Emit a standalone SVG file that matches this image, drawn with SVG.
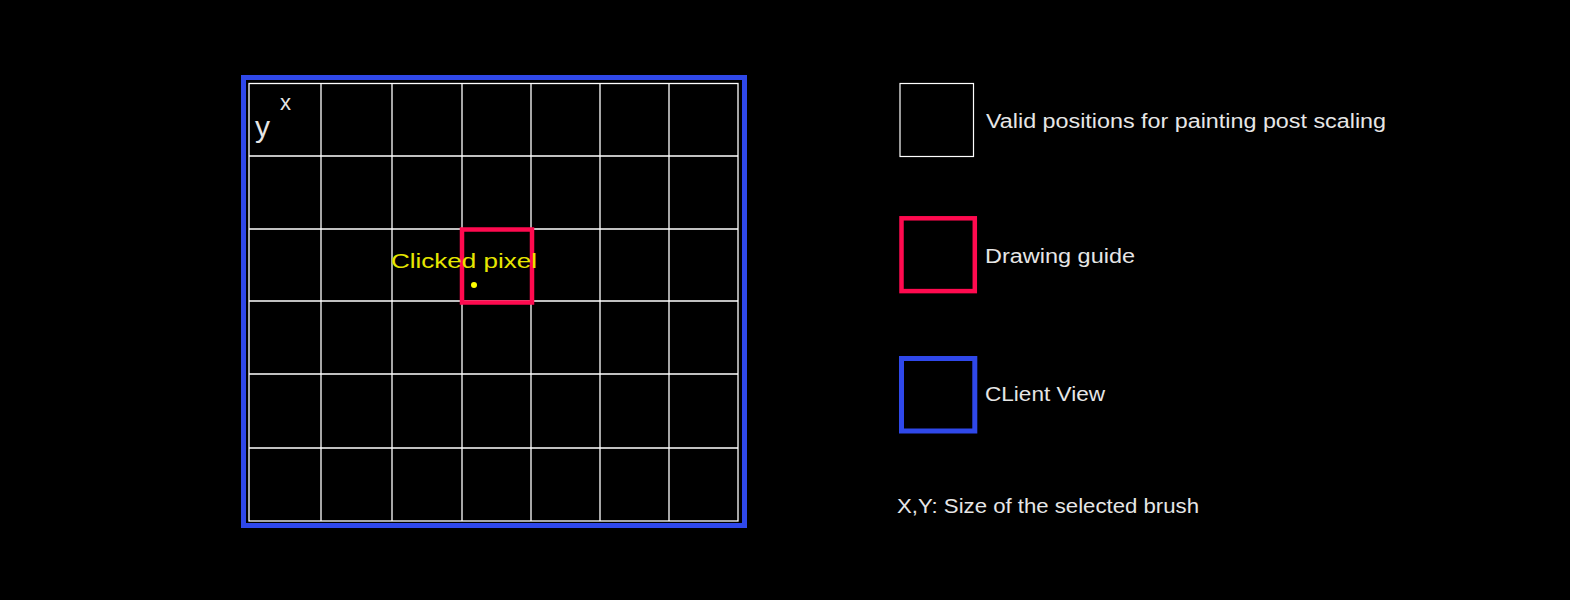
<svg xmlns="http://www.w3.org/2000/svg" width="1570" height="600" viewBox="0 0 1570 600">
<style>
.t{font-family:"Liberation Sans","DejaVu Sans",sans-serif;fill:#e6e6e6;font-size:20px}
.grid{stroke:#ffffff;stroke-width:1.3;fill:none}
.red{stroke:#ff0a4f;stroke-width:4.5;fill:none}
.blue{stroke:#2f48ea;stroke-width:5;fill:none}
</style>
<rect x="0" y="0" width="1570" height="600" fill="#000"/>
<g id="client-view">
<rect class="blue" x="243.5" y="77.5" width="501" height="448"/>
</g>
<g id="grid">
<rect class="grid" x="249" y="83.5" width="489" height="437.5"/>
<path class="grid" d="M321 83.5V521M392 83.5V521M462 83.5V521M531 83.5V521M600 83.5V521M669 83.5V521M249 156H738M249 229H738M249 301H738M249 374H738M249 448H738"/>
<text class="t" x="255" y="137" style="font-size:30px">y</text>
<text class="t" x="280" y="110" style="font-size:22px">x</text>
</g>
<g id="drawing-guide">
<rect class="red" x="462" y="229.5" width="70" height="73"/>
<circle cx="474" cy="285" r="3" fill="#ffff00"/>
<text class="t" x="391" y="268" style="fill:#e6e600" textLength="146" lengthAdjust="spacingAndGlyphs">Clicked pixel</text>
</g>
<g id="legend-valid">
<rect x="900" y="83.5" width="73.5" height="73" fill="none" stroke="#ffffff" stroke-width="1.2"/>
<text class="t" x="986" y="128" textLength="400" lengthAdjust="spacingAndGlyphs">Valid positions for painting post scaling</text>
</g>
<g id="legend-guide">
<rect class="red" x="901.5" y="218.3" width="73.3" height="72.8"/>
<text class="t" x="985" y="263" textLength="150" lengthAdjust="spacingAndGlyphs">Drawing guide</text>
</g>
<g id="legend-client">
<rect class="blue" x="901.5" y="358.5" width="73.3" height="72.5"/>
<text class="t" x="985" y="401" textLength="120" lengthAdjust="spacingAndGlyphs">CLient View</text>
</g>
<g id="note">
<text class="t" x="897" y="513" textLength="302" lengthAdjust="spacingAndGlyphs">X,Y: Size of the selected brush</text>
</g>
<g id="connectors"/>
</svg>
